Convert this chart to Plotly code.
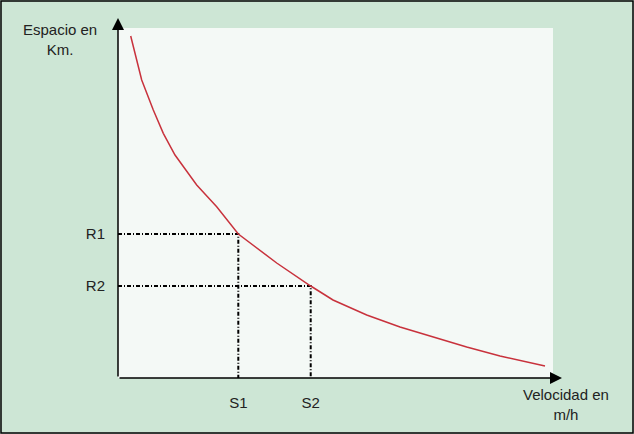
import plotly.graph_objects as go

# curve (arbitrary units: x = velocidad, y = espacio)
velocidad = [12.7, 23.7, 35.3, 45.3, 57, 78.7, 98.7, 120.3, 158.7, 192.7, 215, 248.7, 282, 315, 348.7, 382, 427]
espacio = [342, 298, 268, 244.7, 223, 193, 171.3, 144, 115, 92, 78, 63, 51, 41, 31, 22, 12]

s_vals = [120.3, 192.7]
s_labels = ["S1", "S2"]
r_vals = [144, 92]
r_labels = ["R1", "R2"]

X_MAX, Y_MAX = 435, 350
FONT = "Liberation Sans, Arial, sans-serif"
TXT = "#222222"

fig = go.Figure()

# dotted guide lines
for s, r in zip(s_vals, r_vals):
    fig.add_trace(go.Scatter(x=[0, s, s], y=[r, r, 0], mode="lines",
                             line=dict(color="black", width=2, dash="4px,2px,1px,2px"),
                             hoverinfo="skip", showlegend=False))

fig.add_trace(go.Scatter(x=velocidad, y=espacio, mode="lines",
                         line=dict(color="#c8323c", width=1.5),
                         showlegend=False))

fig.update_layout(
    width=634, height=434,
    margin=dict(l=118, r=81, t=28, b=56),
    paper_bgcolor="#cde6d5",
    plot_bgcolor="#f4f9f6",
    font=dict(family=FONT, size=15, color=TXT),
    xaxis=dict(range=[0, X_MAX], showgrid=False, zeroline=False, showline=False,
               tickvals=s_vals, ticktext=s_labels, ticks="", ticklabelstandoff=14),
    yaxis=dict(range=[0, Y_MAX], showgrid=False, zeroline=False, showline=False,
               tickvals=r_vals, ticktext=r_labels, ticks="", ticklabelstandoff=12),
)

# axes with arrow heads
fig.add_annotation(xref="paper", yref="paper", x=(562 - 118) / X_MAX, y=0,
                   ax=-444, ay=0, text="", showarrow=True, arrowhead=2,
                   arrowsize=1.6, arrowwidth=1.5, arrowcolor="black")
fig.add_annotation(xref="paper", yref="paper", x=0, y=(378 - 18) / Y_MAX,
                   ax=0, ay=360, text="", showarrow=True, arrowhead=2,
                   arrowsize=1.6, arrowwidth=1.5, arrowcolor="black")

# axis titles
fig.add_annotation(xref="paper", yref="paper", x=(60 - 118) / X_MAX, y=(378 - 40) / Y_MAX,
                   xanchor="center", yanchor="middle",
                   text="Espacio en<br>Km.", showarrow=False, font=dict(size=15, color=TXT))
fig.add_annotation(xref="paper", yref="paper", x=(566 - 118) / X_MAX, y=(378 - 404) / Y_MAX,
                   xanchor="center", yanchor="middle",
                   text="Velocidad en<br>m/h", showarrow=False, font=dict(size=15, color=TXT))

# outer border
fig.add_shape(type="rect", xref="paper", yref="paper", layer="above",
              x0=(-118 + 1) / X_MAX, x1=(X_MAX + 81 - 1) / X_MAX,
              y0=(-56 + 1) / Y_MAX, y1=(Y_MAX + 28 - 1) / Y_MAX,
              line=dict(color="black", width=1.5))

fig.write_html("out.html", config={"displayModeBar": False},
               post_script="document.body.style.margin='0';")
